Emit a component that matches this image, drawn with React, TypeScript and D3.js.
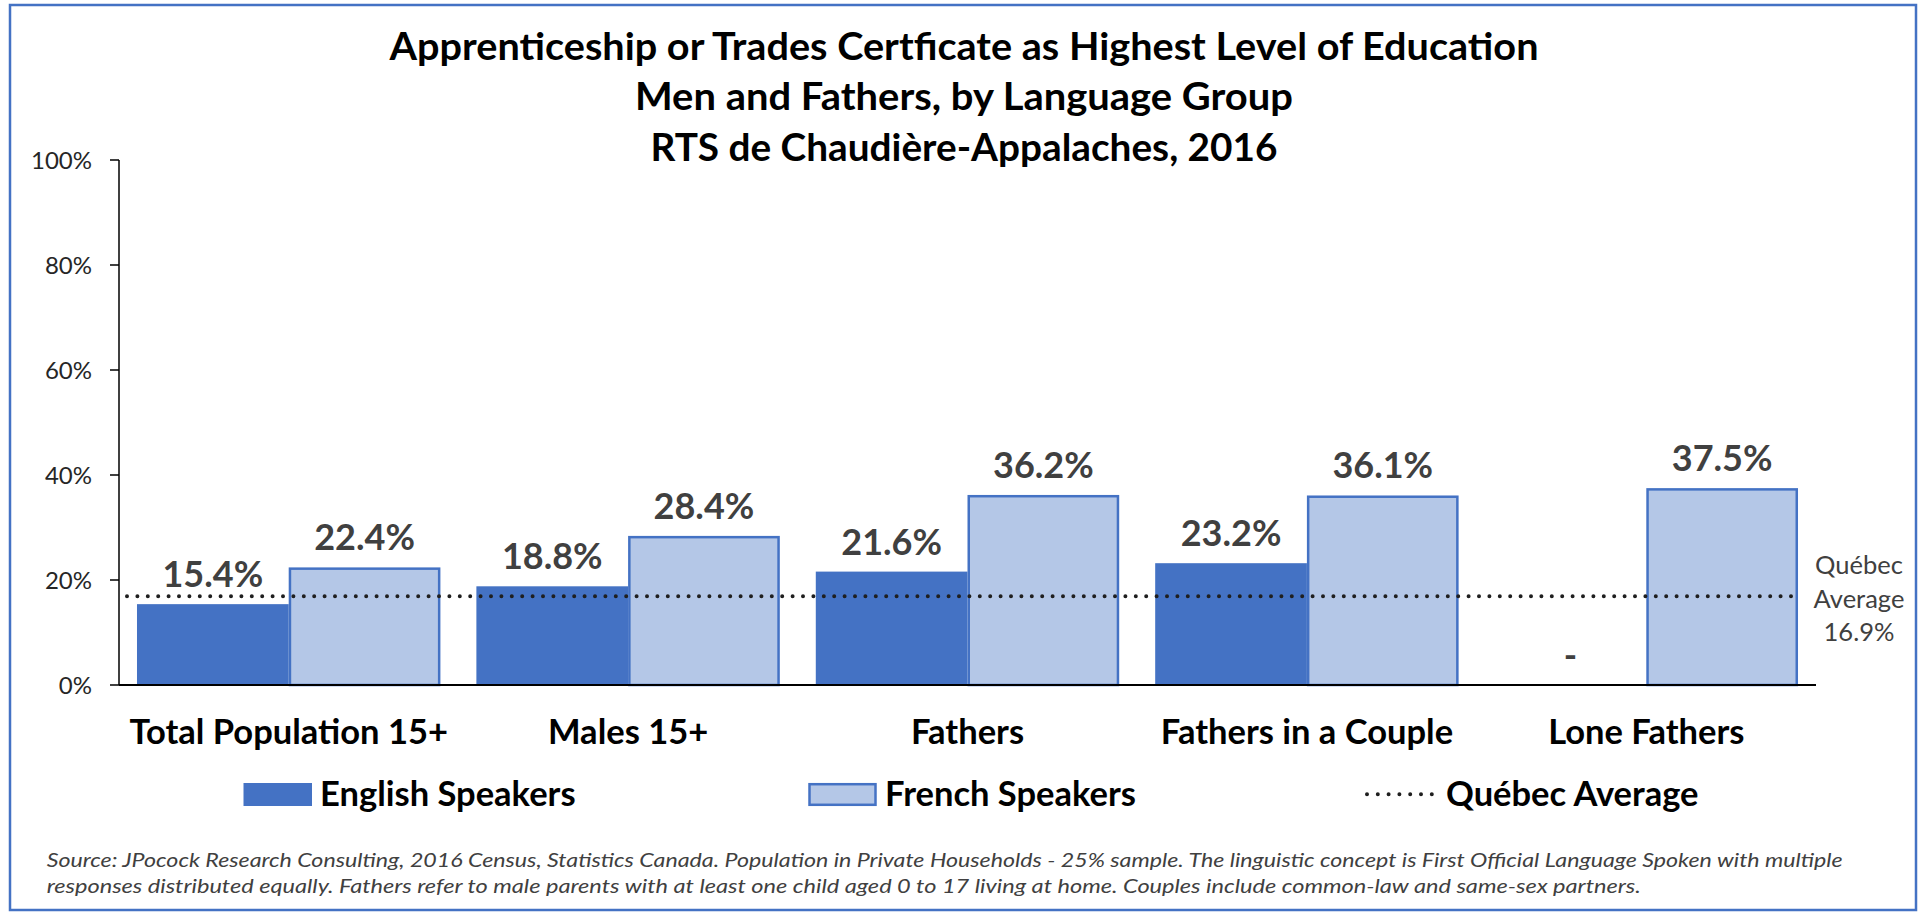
import React from "react";
import * as d3 from "d3";

const titleLines = [
  "Apprenticeship or Trades Certficate as Highest Level of Education",
  "Men and Fathers, by Language Group",
  "RTS de Chaudière-Appalaches, 2016",
];
const categories = ["Total Population 15+", "Males 15+", "Fathers", "Fathers in a Couple", "Lone Fathers"];
const seriesNames = ["English Speakers", "French Speakers"];
const englishValues: (number | null)[] = [15.4, 18.8, 21.6, 23.2, null];
const frenchValues: (number | null)[] = [22.4, 28.4, 36.2, 36.1, 37.5];
const quebecAverage = 16.9;
const quebecLabelLines = ["Québec", "Average", "16.9%"];
const yTicks = [0, 20, 40, 60, 80, 100];
const footnoteLines = [
  "Source: JPocock Research Consulting, 2016 Census, Statistics Canada. Population in Private Households - 25% sample. The linguistic concept is First Official Language Spoken with multiple",
  "responses distributed equally. Fathers refer to male parents with at least one child aged 0 to 17 living at home. Couples include common-law and same-sex partners.",
];

const W = 1925;
const H = 915;
const DARK_BLUE = "#4472C4";
const LIGHT_BLUE = "#B4C7E7";
const LABEL_GREY = "#404040";
const FONT = "Lato, 'Open Sans', sans-serif";

export default function App() {
  const plot = { left: 119, right: 1816, top: 160, bottom: 685 };
  const y = d3.scaleLinear().domain([0, 100]).range([plot.bottom, plot.top]);
  const x0 = d3
    .scaleBand<string>()
    .domain(categories)
    .range([plot.left, plot.right])
    .paddingInner(0.106)
    .paddingOuter(0.053);
  const x1 = d3.scaleBand<string>().domain(seriesNames).range([0, x0.bandwidth()]).padding(0);
  const fmt = (v: number | null) => (v == null ? "-" : d3.format(".1f")(v) + "%");
  const series = [
    { name: seriesNames[0], values: englishValues, fill: DARK_BLUE, stroke: "none" },
    { name: seriesNames[1], values: frenchValues, fill: LIGHT_BLUE, stroke: DARK_BLUE },
  ];
  const avgY = y(quebecAverage);
  const avgLine = d3.line<[number, number]>()([
    [plot.left + 8, avgY],
    [plot.right - 15, avgY],
  ]);

  return (
    <svg
      width={W}
      height={H}
      viewBox={`0 0 ${W} ${H}`}
      style={{ position: "absolute", left: 0, top: 0, background: "#fff" }}
      fontFamily={FONT}
    >
      <rect x={0} y={0} width={W} height={H} fill="#fff" />
      <rect x={10} y={5} width={1906} height={905} fill="#fff" stroke={DARK_BLUE} strokeWidth={2.5} />

      {/* Title */}
      {titleLines.map((t, i) => (
        <text
          key={t}
          x={964}
          y={59.5 + i * 50.5}
          textAnchor="middle"
          fontWeight={700}
          fontSize={38}
          fill="#000"
          textLength={[1149, 658, 627][i]}
          lengthAdjust="spacingAndGlyphs"
        >
          {t}
        </text>
      ))}

      {/* Y axis */}
      <line x1={plot.left} x2={plot.left} y1={plot.top} y2={plot.bottom} stroke="#000" strokeWidth={1.5} />
      {yTicks.map((t) => (
        <g key={t}>
          <line x1={plot.left - 9} x2={plot.left} y1={y(t)} y2={y(t)} stroke="#000" strokeWidth={1.5} />
          <text x={92} y={y(t)} dy="0.36em" textAnchor="end" fontSize={24} fill="#262626">
            {t + "%"}
          </text>
        </g>
      ))}

      {/* Bars */}
      {series.map((s) =>
        categories.map((c, i) => {
          const v = s.values[i];
          if (v == null) return null;
          const bx = (x0(c) as number) + (x1(s.name) as number);
          return (
            <rect
              key={s.name + c}
              x={bx + (s.stroke === "none" ? 0 : 1.25)}
              y={y(v) + (s.stroke === "none" ? 0 : 1.25)}
              width={x1.bandwidth() - (s.stroke === "none" ? 0 : 2.5)}
              height={y(0) - y(v) - (s.stroke === "none" ? 0 : 1.25)}
              fill={s.fill}
              stroke={s.stroke}
              strokeWidth={2.5}
            />
          );
        })
      )}

      {/* Quebec average dotted line */}
      <path d={avgLine as string} stroke="#1f1f1f" strokeWidth={4} strokeDasharray="0 10.4" strokeLinecap="round" fill="none" />

      {/* X axis */}
      <line x1={plot.left} x2={plot.right} y1={plot.bottom} y2={plot.bottom} stroke="#000" strokeWidth={2} />

      {/* Data labels */}
      {series.map((s) =>
        categories.map((c, i) => {
          const v = s.values[i];
          const cx = (x0(c) as number) + (x1(s.name) as number) + x1.bandwidth() / 2;
          return (
            <text
              key={"l" + s.name + c}
              x={cx}
              y={y(v == null ? 0 : v) - 17}
              textAnchor="middle"
              fontWeight={700}
              fontSize={36}
              fill={LABEL_GREY}
            >
              {fmt(v)}
            </text>
          );
        })
      )}

      {/* Category labels */}
      {categories.map((c) => (
        <text
          key={"c" + c}
          x={(x0(c) as number) + x0.bandwidth() / 2}
          y={744}
          textAnchor="middle"
          fontWeight={700}
          fontSize={34.5}
          fill="#000"
        >
          {c}
        </text>
      ))}

      {/* Quebec side label */}
      {quebecLabelLines.map((t, i) => (
        <text key={"q" + i} x={1859} y={574 + i * 33.5} textAnchor="middle" fontSize={25.5} fill={LABEL_GREY}>
          {t}
        </text>
      ))}

      {/* Legend */}
      <rect x={243.5} y={783} width={68.5} height={23} fill={DARK_BLUE} />
      <text x={320} y={806} fontWeight={700} fontSize={34.5} fill="#000">
        {seriesNames[0]}
      </text>
      <rect x={809.5} y={784.2} width={66} height={20.6} fill={LIGHT_BLUE} stroke={DARK_BLUE} strokeWidth={2.5} />
      <text x={885} y={806} fontWeight={700} fontSize={34.5} fill="#000">
        {seriesNames[1]}
      </text>
      <line x1={1367} x2={1432} y1={794.3} y2={794.3} stroke="#1f1f1f" strokeWidth={4} strokeDasharray="0 10.8" strokeLinecap="round" />
      <text x={1446} y={806} fontWeight={700} fontSize={34.5} fill="#000">
        Québec Average
      </text>

      {/* Footnote */}
      {footnoteLines.map((t, i) => (
        <text
          key={"f" + i}
          x={46.7}
          y={866.7 + i * 26.7}
          fontStyle="italic"
          fontSize={18.5}
          fill={LABEL_GREY}
          textLength={[1796, 1594][i]}
          lengthAdjust="spacingAndGlyphs"
        >
          {t}
        </text>
      ))}
    </svg>
  );
}
